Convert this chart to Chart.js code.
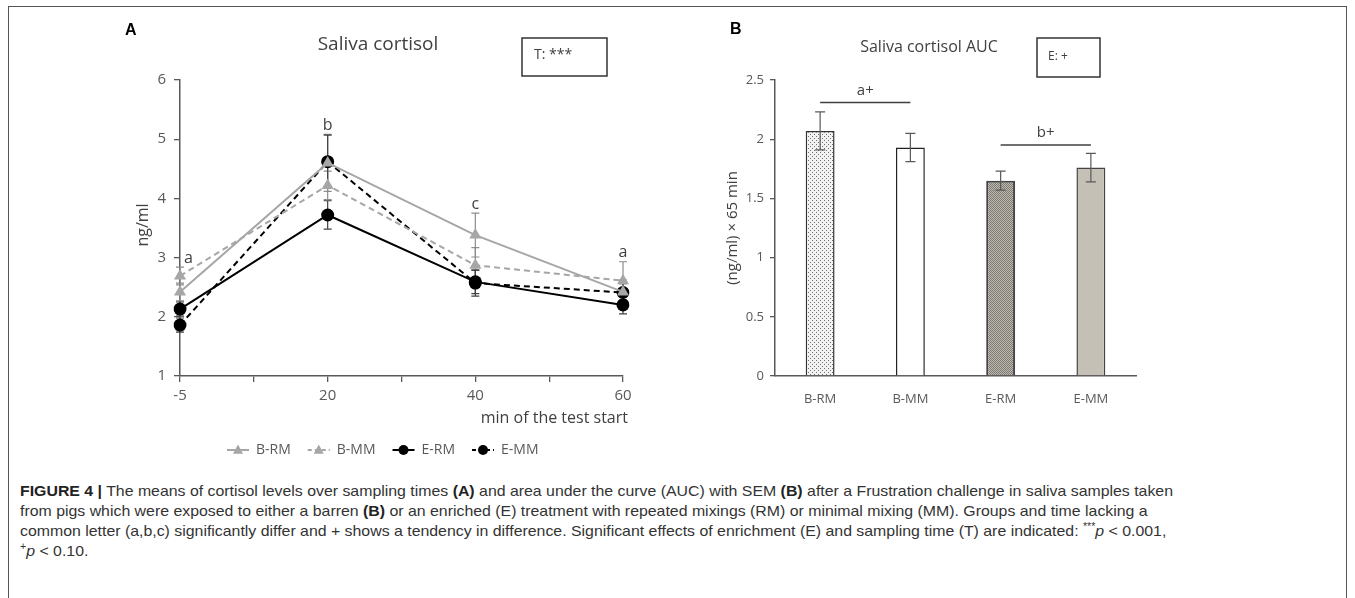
<!DOCTYPE html>
<html>
<head>
<meta charset="utf-8">
<script src="https://cdn.jsdelivr.net/npm/chart.js@4.4.1/dist/chart.umd.min.js"></script>
<style>
  body { margin: 0; background: #fff; width: 1355px; height: 598px; overflow: hidden; position: relative; }
  #frame { position: absolute; left: 8px; top: 6px; width: 1337px; height: 600px; border: 1.5px solid #555; border-bottom: none; }
  canvas { position: absolute; top: 0; }
  #cvA { left: 100px; }
  #cvB { left: 700px; }
  #caption { position: absolute; left: 20px; top: 481px; font-family: "Liberation Sans", Arial, sans-serif; font-size: 15px; color: #333; }
  #caption div { white-space: nowrap; line-height: 20px; transform-origin: 0 0; }
  #caption b { color: #222; }
  sup { font-size: 10px; line-height: 0; }
</style>
</head>
<body>
<div id="frame"></div>
<canvas id="cvA" width="560" height="480"></canvas>
<canvas id="cvB" width="560" height="480"></canvas>
<div id="caption">
  <div><b>FIGURE 4 |</b> The means of cortisol levels over sampling times <b>(A)</b> and area under the curve (AUC) with SEM <b>(B)</b> after a Frustration challenge in saliva samples taken</div>
  <div>from pigs which were exposed to either a barren <b>(B)</b> or an enriched (E) treatment with repeated mixings (RM) or minimal mixing (MM). Groups and time lacking a</div>
  <div>common letter (a,b,c) significantly differ and + shows a tendency in difference. Significant effects of enrichment (E) and sampling time (T) are indicated: <sup>***</sup><i>p</i> &lt; 0.001,</div>
  <div><sup>+</sup><i>p</i> &lt; 0.10.</div>
</div>
<script>
// panel A: sampling times and group means (ng/ml)
const times = ['-5', '20', '40', '60'];
const groupNames = ['B-RM', 'B-MM', 'E-RM', 'E-MM'];
const bRM = [2.42, 4.60, 3.38, 2.42];
const bMM = [2.69, 4.22, 2.87, 2.61];
const eRM = [2.13, 3.72, 2.59, 2.20];
const eMM = [1.86, 4.62, 2.57, 2.41];
const bRMsem = [0.15, 0.48, 0.37, 0.20];
const bMMsem = [0.15, 0.24, 0.30, 0.32];
const eRMsem = [0.12, 0.24, 0.20, 0.15];
const eMMsem = [0.12, 0.45, 0.22, 0.15];
const timeLetters = ['a', 'b', 'c', 'a'];
const yTicksA = [1, 2, 3, 4, 5, 6];

// panel B: AUC
const aucMeans = [2.07, 1.93, 1.65, 1.76];
const aucSem = [0.16, 0.12, 0.08, 0.12];
const bracketPairs = [[0, 1], [2, 3]];
const bracketLabels = ['a+', 'b+'];
const bracketLevels = [2.31, 1.95];
const yTicksB = [0, 0.5, 1, 1.5, 2, 2.5];

// fit caption lines to the reference width
(function () {
  const lines = document.querySelectorAll('#caption div');
  const s = 1153 / lines[0].getBoundingClientRect().width;
  lines.forEach(l => { l.style.transform = 'scaleX(' + s + ')'; });
})();

const axisGrey = '#595959';
const tickFontA = { family: 'Open Sans', size: 15 };
const tickFontB = { family: 'Open Sans', size: 13 };
const lightGrey = '#a6a6a6';

// time axis: each sample point sits on a major tick, with a minor tick between
const labelsA = [];
times.forEach((t, i) => { labelsA.push(t); if (i < times.length - 1) labelsA.push(''); });
function spread(arr) {
  const out = [];
  arr.forEach((v, i) => { out.push(v); if (i < arr.length - 1) out.push(null); });
  return out;
}

const seriesA = [
  { label: groupNames[0], data: bRM, sem: bRMsem, color: lightGrey, dash: [], style: 'triangle' },
  { label: groupNames[1], data: bMM, sem: bMMsem, color: lightGrey, dash: [6, 4], style: 'triangle' },
  { label: groupNames[2], data: eRM, sem: eRMsem, color: '#000', dash: [], style: 'circle' },
  { label: groupNames[3], data: eMM, sem: eMMsem, color: '#000', dash: [6, 4], style: 'circle' }
];

function marker(ctx, style, x, y, color, r) {
  ctx.fillStyle = color;
  ctx.beginPath();
  if (style === 'circle') {
    ctx.arc(x, y, r, 0, Math.PI * 2);
  } else {
    ctx.moveTo(x, y - r * 1.1);
    ctx.lineTo(x + r, y + r * 0.75);
    ctx.lineTo(x - r, y + r * 0.75);
    ctx.closePath();
  }
  ctx.fill();
}

const lineExtras = {
  id: 'lineExtras',
  beforeDatasetsDraw(chart) {
    const ctx = chart.ctx, y = chart.scales.y;
    ctx.save();
    ctx.lineWidth = 1.2;
    chart.data.datasets.forEach((ds, di) => {
      const meta = chart.getDatasetMeta(di);
      const sem = seriesA[di].sem;
      ctx.strokeStyle = di < 2 ? '#8c8c8c' : '#404040';
      let k = 0;
      ds.data.forEach((v, i) => {
        if (v === null) return;
        const px = meta.data[i].x;
        const top = y.getPixelForValue(v + sem[k]);
        const bot = y.getPixelForValue(v - sem[k]);
        ctx.beginPath();
        ctx.moveTo(px, top); ctx.lineTo(px, bot);
        ctx.moveTo(px - 4, top); ctx.lineTo(px + 4, top);
        ctx.moveTo(px - 4, bot); ctx.lineTo(px + 4, bot);
        ctx.stroke();
        k++;
      });
    });
    ctx.restore();
  },
  afterDraw(chart) {
    const ctx = chart.ctx, x = chart.scales.x, y = chart.scales.y;
    ctx.save();
    ctx.textBaseline = 'middle';
    // letters above the highest whisker of each time
    ctx.fillStyle = '#404040';
    ctx.font = '16px "Open Sans"';
    times.forEach((t, i) => {
      let hi = -Infinity;
      seriesA.forEach(s => { hi = Math.max(hi, s.data[i] + s.sem[i]); });
      const px = x.getPixelForValue(i * 2);
      ctx.textAlign = i === 0 ? 'left' : 'center';
      ctx.fillText(timeLetters[i], i === 0 ? px + 4 : px, y.getPixelForValue(hi) - 9);
    });
    // panel letter, title, stats box
    ctx.fillStyle = '#000';
    ctx.font = 'bold 16px "Liberation Sans"';
    ctx.textAlign = 'left';
    ctx.fillText('A', 25, 31);
    ctx.fillStyle = '#404040';
    ctx.font = '19px "Open Sans"';
    ctx.textAlign = 'center';
    ctx.fillText('Saliva cortisol', 278, 45);
    ctx.strokeStyle = '#333';
    ctx.lineWidth = 1.5;
    ctx.strokeRect(422, 38, 85, 38);
    ctx.font = '14px "Open Sans"';
    ctx.textAlign = 'left';
    ctx.fillText('T: ***', 434, 55);
    // axis titles
    ctx.font = '16px "Open Sans"';
    ctx.textAlign = 'right';
    ctx.fillText('min of the test start', 528, 418);
    ctx.save();
    ctx.translate(43, 225);
    ctx.rotate(-Math.PI / 2);
    ctx.textAlign = 'center';
    ctx.fillText('ng/ml', 0, 0);
    ctx.restore();
    // legend
    ctx.font = '14px "Open Sans"';
    ctx.textAlign = 'left';
    let lx = 127;
    const ly = 450;
    seriesA.forEach(s => {
      ctx.strokeStyle = s.color;
      ctx.lineWidth = 2;
      ctx.setLineDash(s.dash.length ? [4, 3] : []);
      ctx.beginPath(); ctx.moveTo(lx, ly); ctx.lineTo(lx + 22, ly); ctx.stroke();
      ctx.setLineDash([]);
      marker(ctx, s.style, lx + 11, ly, s.color, 5);
      ctx.fillStyle = '#595959';
      ctx.fillText(s.label, lx + 29, ly);
      lx += 29 + ctx.measureText(s.label).width + 17;
    });
    ctx.restore();
  }
};

new Chart(document.getElementById('cvA'), {
  type: 'line',
  plugins: [lineExtras],
  data: {
    labels: labelsA,
    datasets: seriesA.map(s => ({
      label: s.label,
      data: spread(s.data),
      spanGaps: true,
      borderColor: s.color,
      backgroundColor: s.color,
      borderWidth: 2,
      borderDash: s.dash,
      pointStyle: s.style,
      pointRadius: s.style === 'circle' ? 6.5 : 7,
      pointBorderWidth: 0,
      tension: 0
    }))
  },
  options: {
    responsive: false,
    animation: false,
    events: [],
    layout: { padding: { left: 40, right: 37, top: 80, bottom: 64 } },
    plugins: { legend: { display: false }, tooltip: { enabled: false } },
    scales: {
      x: {
        type: 'category',
        offset: false,
        afterFit: s => { s.height = 40; },
        grid: { drawOnChartArea: false, drawTicks: true, tickLength: 6, color: axisGrey, lineWidth: 1.3 },
        border: { color: axisGrey, width: 1.5 },
        ticks: { autoSkip: false, maxRotation: 0, color: axisGrey, font: tickFontA, padding: 5 }
      },
      y: {
        min: 1, max: 6,
        afterFit: s => { s.width = 40; },
        afterBuildTicks: s => { s.ticks = yTicksA.map(v => ({ value: v })); },
        grid: { drawOnChartArea: false, drawTicks: true, tickLength: 6, color: axisGrey, lineWidth: 1.3 },
        border: { color: axisGrey, width: 1.5 },
        ticks: { color: axisGrey, font: tickFontA, padding: 8 }
      }
    }
  }
});

// panel B
function dotPattern(bg, dot, step) {
  const c = document.createElement('canvas');
  c.width = c.height = step;
  const g = c.getContext('2d');
  g.fillStyle = bg; g.fillRect(0, 0, step, step);
  g.fillStyle = dot;
  g.fillRect(0, 0, 1, 1);
  g.fillRect(step / 2, step / 2, 1, 1);
  return g.createPattern(c, 'repeat');
}
const ctxB = document.getElementById('cvB').getContext('2d');
const barFills = [
  dotPattern('#f2f2f2', '#6e6e6e', 4),
  '#ffffff',
  dotPattern('#bdb9b0', '#7e7b75', 2),
  '#c4c0b5'
];

const barExtras = {
  id: 'barExtras',
  afterDatasetsDraw(chart) {
    const ctx = chart.ctx, y = chart.scales.y;
    const meta = chart.getDatasetMeta(0);
    ctx.save();
    ctx.strokeStyle = '#595959';
    ctx.lineWidth = 1.2;
    aucMeans.forEach((v, i) => {
      const px = meta.data[i].x;
      const top = y.getPixelForValue(v + aucSem[i]);
      const bot = y.getPixelForValue(v - aucSem[i]);
      ctx.beginPath();
      ctx.moveTo(px, top); ctx.lineTo(px, bot);
      ctx.moveTo(px - 5, top); ctx.lineTo(px + 5, top);
      ctx.moveTo(px - 5, bot); ctx.lineTo(px + 5, bot);
      ctx.stroke();
    });
    // brackets
    ctx.strokeStyle = '#404040';
    ctx.lineWidth = 1.5;
    ctx.fillStyle = '#404040';
    ctx.font = '15px "Open Sans"';
    ctx.textAlign = 'center';
    ctx.textBaseline = 'middle';
    bracketPairs.forEach((p, i) => {
      const x0 = meta.data[p[0]].x, x1 = meta.data[p[1]].x;
      const py = y.getPixelForValue(bracketLevels[i]);
      ctx.beginPath(); ctx.moveTo(x0, py); ctx.lineTo(x1, py); ctx.stroke();
      ctx.fillText(bracketLabels[i], (x0 + x1) / 2, py - 12);
    });
    ctx.restore();
  },
  afterDraw(chart) {
    const ctx = chart.ctx;
    ctx.save();
    ctx.textBaseline = 'middle';
    ctx.fillStyle = '#000';
    ctx.font = 'bold 16px "Liberation Sans"';
    ctx.textAlign = 'left';
    ctx.fillText('B', 30, 30);
    ctx.fillStyle = '#404040';
    ctx.font = '16px "Open Sans"';
    ctx.textAlign = 'center';
    ctx.fillText('Saliva cortisol AUC', 229, 47);
    ctx.strokeStyle = '#333';
    ctx.lineWidth = 1.5;
    ctx.strokeRect(337, 38, 63, 39);
    ctx.font = '12px "Open Sans"';
    ctx.textAlign = 'left';
    ctx.fillText('E: +', 348, 57);
    ctx.font = '15px "Open Sans"';
    ctx.translate(33, 228);
    ctx.rotate(-Math.PI / 2);
    ctx.textAlign = 'center';
    ctx.fillText('(ng/ml) × 65 min', 0, 0);
    ctx.restore();
  }
};

new Chart(ctxB, {
  type: 'bar',
  plugins: [barExtras],
  data: {
    labels: groupNames,
    datasets: [{
      data: aucMeans,
      backgroundColor: barFills,
      borderColor: ['#333', '#222', '#444', '#444'],
      borderWidth: [1.5, 1.5, 2, 1.5],
      borderSkipped: 'bottom',
      barPercentage: 0.32,
      categoryPercentage: 1
    }]
  },
  options: {
    responsive: false,
    animation: false,
    events: [],
    layout: { padding: { left: 35, right: 124, top: 80, bottom: 64 } },
    plugins: { legend: { display: false }, tooltip: { enabled: false } },
    scales: {
      x: {
        afterFit: s => { s.height = 40; },
        grid: { display: false },
        border: { color: axisGrey, width: 1.5 },
        ticks: { color: axisGrey, font: tickFontB, padding: 7 }
      },
      y: {
        min: 0, max: 2.5,
        afterFit: s => { s.width = 40; },
        afterBuildTicks: s => { s.ticks = yTicksB.map(v => ({ value: v })); },
        grid: { drawOnChartArea: false, drawTicks: true, tickLength: 5, color: axisGrey, lineWidth: 1.3 },
        border: { color: axisGrey, width: 1.5 },
        ticks: { color: axisGrey, font: tickFontB, padding: 6, callback: v => String(v) }
      }
    }
  }
});
</script>
</body>
</html>
